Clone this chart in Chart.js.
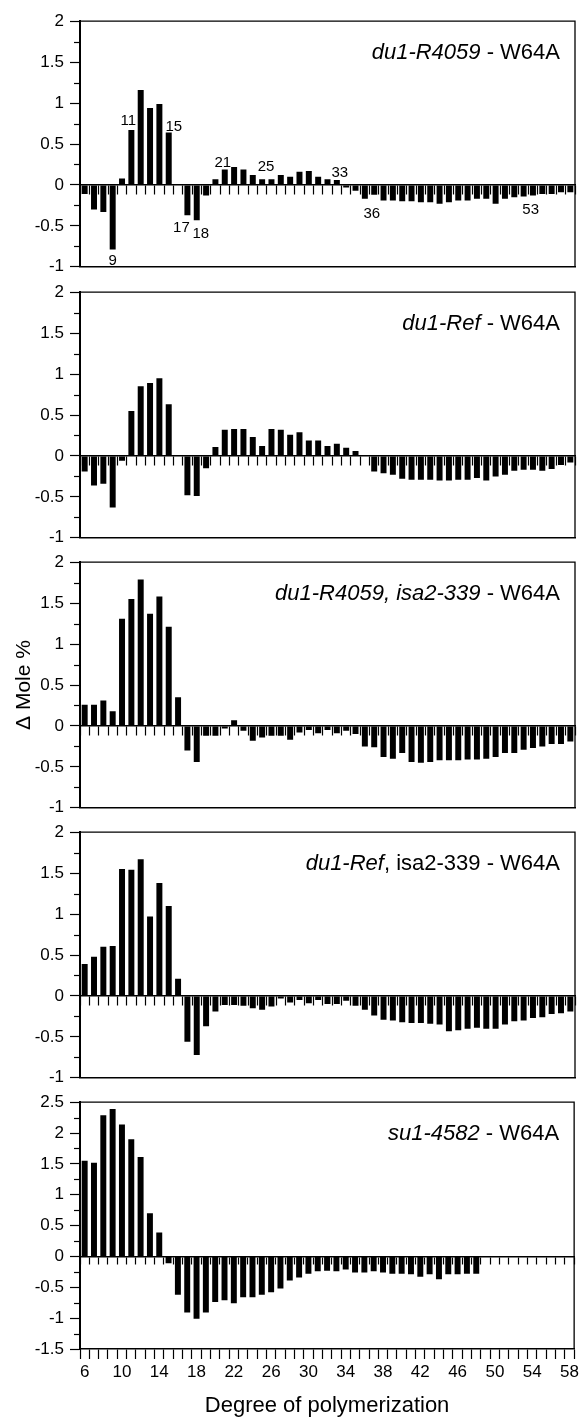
<!DOCTYPE html>
<html>
<head>
<meta charset="utf-8">
<script src="https://cdn.jsdelivr.net/npm/chart.js@4.4.1/dist/chart.umd.min.js"></script>
<style>
  body { margin: 0; background: #fff; }
  #wrap { position: relative; width: 582px; height: 1417px; }
  #wrap canvas { position: absolute; left: 0; }
</style>
</head>
<body>
<div id="wrap"></div>
<script>
// degree of polymerization 6..58
var dpLabels = [];
for (let d = 6; d <= 58; d++) dpLabels.push(String(d));

// delta mole % per DP
var du1R4059 = [-0.11, -0.30, -0.33, -0.79, 0.08, 0.67, 1.16, 0.94, 0.99, 0.64,
  0.01, -0.37, -0.43, -0.13, 0.07, 0.19, 0.22, 0.19, 0.12, 0.07,
  0.07, 0.12, 0.10, 0.16, 0.17, 0.10, 0.07, 0.06, -0.03, -0.07,
  -0.17, -0.12, -0.19, -0.19, -0.20, -0.20, -0.21, -0.21, -0.23, -0.21,
  -0.19, -0.19, -0.17, -0.17, -0.23, -0.17, -0.15, -0.14, -0.13, -0.11,
  -0.11, -0.09, -0.09];
var du1Ref = [-0.19, -0.36, -0.34, -0.63, -0.06, 0.55, 0.85, 0.89, 0.95, 0.63,
  0.01, -0.48, -0.49, -0.15, 0.11, 0.32, 0.33, 0.33, 0.23, 0.12,
  0.33, 0.32, 0.26, 0.29, 0.19, 0.19, 0.12, 0.15, 0.10, 0.06,
  0.01, -0.19, -0.21, -0.23, -0.28, -0.29, -0.29, -0.29, -0.30, -0.30,
  -0.29, -0.29, -0.27, -0.30, -0.25, -0.23, -0.18, -0.17, -0.17, -0.18,
  -0.16, -0.11, -0.08];
var du1R4059Isa2 = [0.26, 0.26, 0.31, 0.18, 1.31, 1.55, 1.79, 1.37, 1.58, 1.21,
  0.35, -0.30, -0.44, -0.12, -0.12, -0.03, 0.07, -0.06, -0.18, -0.14,
  -0.12, -0.12, -0.17, -0.08, -0.05, -0.09, -0.05, -0.09, -0.06, -0.10,
  -0.25, -0.26, -0.38, -0.40, -0.33, -0.44, -0.45, -0.44, -0.42, -0.42,
  -0.42, -0.41, -0.41, -0.40, -0.38, -0.33, -0.33, -0.29, -0.27, -0.25,
  -0.22, -0.22, -0.19];
var du1RefIsa2 = [0.39, 0.48, 0.60, 0.61, 1.55, 1.54, 1.67, 0.97, 1.38, 1.10,
  0.21, -0.56, -0.72, -0.37, -0.19, -0.11, -0.11, -0.12, -0.15, -0.17,
  -0.13, -0.03, -0.08, -0.05, -0.09, -0.05, -0.10, -0.10, -0.06, -0.12,
  -0.17, -0.24, -0.29, -0.30, -0.32, -0.33, -0.33, -0.34, -0.35, -0.43,
  -0.42, -0.40, -0.39, -0.40, -0.40, -0.35, -0.31, -0.30, -0.27, -0.26,
  -0.22, -0.21, -0.19];
// su1 only goes up to DP 48
var su14582 = [1.55, 1.52, 2.29, 2.39, 2.14, 1.90, 1.61, 0.70, 0.39, -0.11,
  -0.62, -0.91, -1.01, -0.91, -0.74, -0.71, -0.76, -0.66, -0.66, -0.62,
  -0.58, -0.52, -0.39, -0.34, -0.28, -0.24, -0.23, -0.24, -0.21, -0.26,
  -0.26, -0.24, -0.26, -0.28, -0.28, -0.29, -0.33, -0.29, -0.37, -0.29,
  -0.29, -0.28, -0.28];

// labelled DPs in the first panel
var annotDP = ['9', '11', '15', '17', '18', '21', '25', '33', '36', '53'];
var annotDx = [0, -3, 5, -6, 4, -2, 4, 3, 7, 7];
var annotGap = [4, 5, 2, 6, 7, 2, 8, 3, 8, 7];

var FONT = "'Liberation Sans', Arial, sans-serif";

var panelDeco = {
  id: 'panelDeco',
  beforeDatasetsDraw(chart, args, opts) {
    // minor ticks on the y axis
    let ctx = chart.ctx, ys = chart.scales.y, left = chart.chartArea.left;
    ctx.save();
    ctx.strokeStyle = '#000';
    ctx.lineWidth = 1.2;
    for (let v = ys.min + 0.25; v < ys.max; v += 0.5) {
      let py = Math.round(ys.getPixelForValue(v)) + 0.5;
      ctx.beginPath();
      ctx.moveTo(left - 6, py);
      ctx.lineTo(left, py);
      ctx.stroke();
    }
    ctx.restore();
  },
  afterDraw(chart, args, opts) {
    let ctx = chart.ctx, a = chart.chartArea;
    ctx.save();
    ctx.strokeStyle = '#000';
    ctx.lineWidth = 1.3;
    ctx.beginPath();
    ctx.moveTo(a.left, a.top);
    ctx.lineTo(a.right, a.top);
    ctx.lineTo(a.right, a.bottom);
    ctx.stroke();

    // title, part italic
    let parts = opts.title || [];
    let x = a.right - 15;
    ctx.fillStyle = '#000';
    ctx.textBaseline = 'alphabetic';
    ctx.textAlign = 'left';
    for (let i = parts.length - 1; i >= 0; i--) {
      ctx.font = (parts[i][1] ? 'italic ' : '') + '22px ' + FONT;
      x -= ctx.measureText(parts[i][0]).width;
      ctx.fillText(parts[i][0], x, a.top + 38);
    }

    // DP labels next to bars
    if (opts.annot) {
      let meta = chart.getDatasetMeta(0);
      let vals = chart.data.datasets[0].data;
      ctx.font = '15px ' + FONT;
      ctx.textAlign = 'center';
      for (let i = 0; i < annotDP.length; i++) {
        let idx = dpLabels.indexOf(annotDP[i]);
        let bar = meta.data[idx];
        let px = bar.x + annotDx[i];
        if (vals[idx] >= 0) {
          ctx.fillText(annotDP[i], px, bar.y - annotGap[i]);
        } else {
          ctx.fillText(annotDP[i], px, bar.y + annotGap[i] + 11);
        }
      }
    }
    ctx.restore();
  }
};

function makePanel(plotTop, values, yMin, yMax, title, extra) {
  let last = !!extra.last;
  let canvas = document.createElement('canvas');
  let top = plotTop - 15;
  let h = last ? 1417 - top : 278;
  canvas.width = 582;
  canvas.height = h;
  canvas.style.top = top + 'px';
  document.getElementById('wrap').appendChild(canvas);

  let tickLen = last ? 7 : 9;

  return new Chart(canvas.getContext('2d'), {
    type: 'bar',
    data: {
      labels: dpLabels,
      datasets: [{
        data: values,
        backgroundColor: '#000',
        borderWidth: 0,
        barPercentage: 0.64,
        categoryPercentage: 1
      }]
    },
    options: {
      responsive: false,
      animation: false,
      layout: { padding: { left: 0, right: 7, top: 15, bottom: last ? 0 : 15 } },
      plugins: {
        legend: { display: false },
        tooltip: { enabled: false },
        panelDeco: { title: title, annot: !!extra.annot }
      },
      scales: {
        x: {
          type: 'category',
          offset: true,
          border: { display: true, color: '#000', width: 1.5 },
          grid: { display: last, drawOnChartArea: false, offset: true, tickLength: 10, tickColor: '#000', tickWidth: 1.2 },
          ticks: {
            display: last, autoSkip: false, maxRotation: 0, minRotation: 0, padding: 3,
            color: '#000', font: { size: 17, family: FONT },
            callback: function (v, i) { return i % 4 === 0 ? dpLabels[i] : ''; }
          },
          title: {
            display: last, text: 'Degree of polymerization', color: '#000',
            font: { size: 22, family: FONT, lineHeight: 1 }, padding: 0
          },
          afterFit: function (s) { s.height = last ? 68 : 0; }
        },
        x0: {
          axis: 'x',
          type: 'category',
          position: { y: 0 },
          offset: true,
          border: { display: true, color: '#000', width: 1.5 },
          grid: { display: true, drawOnChartArea: false, offset: true, tickLength: tickLen, tickColor: '#000', tickWidth: 1.2 },
          ticks: { display: false }
        },
        y: {
          min: yMin,
          max: yMax,
          border: { display: true, color: '#000', width: 2 },
          grid: { drawOnChartArea: false, tickLength: 10, tickColor: '#000', tickWidth: 1.2 },
          ticks: {
            stepSize: 0.5, padding: 6, color: '#000', font: { size: 17, family: FONT },
            callback: function (v) { return String(v); }
          },
          title: {
            display: !!extra.yTitle, text: 'Δ Mole %', color: '#000',
            font: { size: 21, family: FONT, lineHeight: 1 }, padding: { top: 14, bottom: 0 }
          },
          afterFit: function (s) { s.width = 80; }
        }
      }
    },
    plugins: [panelDeco]
  });
}

makePanel(20, du1R4059, -1, 2, [['du1-R4059', true], [' - W64A', false]], { annot: true });
makePanel(291, du1Ref, -1, 2, [['du1-Ref', true], [' - W64A', false]], {});
makePanel(561, du1R4059Isa2, -1, 2, [['du1-R4059, isa2-339', true], [' - W64A', false]], { yTitle: true });
makePanel(831, du1RefIsa2, -1, 2, [['du1-Ref', true], [', isa2-339 - W64A', false]], {});
makePanel(1101, su14582, -1.5, 2.5, [['su1-4582', true], [' - W64A', false]], { last: true });
</script>
</body>
</html>
